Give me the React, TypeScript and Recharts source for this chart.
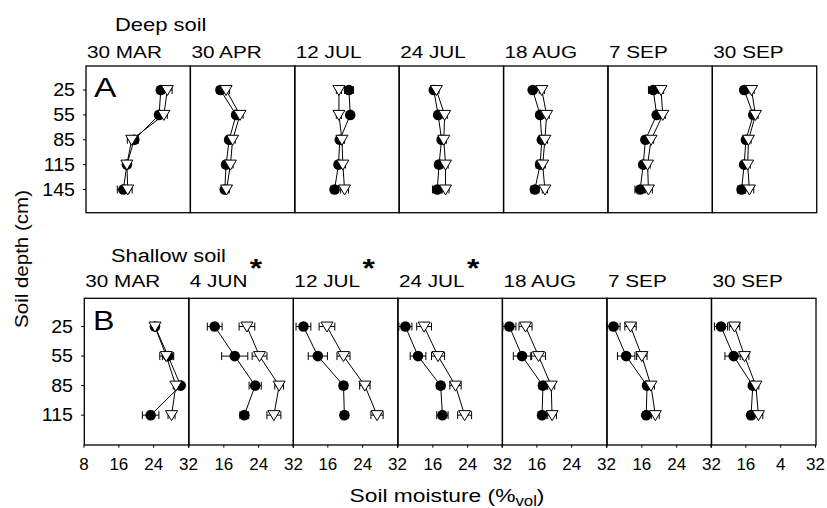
import React from "react";
import { ScatterChart, Scatter, XAxis, YAxis, ErrorBar } from "recharts";

const FONT = "'Liberation Sans', Arial, Helvetica, sans-serif";

// dates above each panel
const deepDates = ["30 MAR", "30 APR", "12 JUL", "24 JUL", "18 AUG", "7 SEP", "30 SEP"];
const shallowDates = ["30 MAR", "4 JUN", "12 JUL", "24 JUL", "18 AUG", "7 SEP", "30 SEP"];
const shallowStars = [false, true, true, true, false, false, false];

const deepDepths = [25, 55, 85, 115, 145];
const shallowDepths = [25, 55, 85, 115];
const moistureTicks = [8, 16, 24, 32];

// tick labels under the bottom row (the last panel really reads "4")
const moistureLabels = [
  ["8", "16", "24", "32"],
  ["", "16", "24", "32"],
  ["", "16", "24", "32"],
  ["", "16", "24", "32"],
  ["", "16", "24", "32"],
  ["", "16", "24", "32"],
  ["", "16", "4", "32"],
];

// deep soil, filled circles
const deepCircle = [
  [25.2, 24.8, 19.1, 17.4, 16.6],
  [15.0, 18.6, 17.0, 16.3, 16.0],
  [20.4, 20.7, 18.3, 18.0, 17.1],
  [16.0, 17.0, 17.8, 17.2, 16.8],
  [14.6, 16.3, 16.7, 16.3, 15.1],
  [18.4, 19.2, 16.6, 16.1, 15.4],
  [15.4, 17.5, 15.8, 15.4, 14.8],
];
const deepCircleErr = [
  [0.8, 0.7, 0.9, 0.6, 1.4],
  [0.8, 0.6, 0.6, 0.7, 0.6],
  [1.0, 0.6, 0.6, 0.6, 0.8],
  [0.6, 0.6, 0.6, 0.7, 1.1],
  [0.6, 0.6, 0.6, 0.9, 0.9],
  [1.1, 0.6, 0.6, 0.6, 1.2],
  [0.6, 0.6, 0.6, 0.6, 0.9],
];
// deep soil, open triangles
const deepTriangle = [
  [26.7, 25.9, 18.5, 17.4, 17.6],
  [16.3, 19.5, 17.8, 17.3, 16.4],
  [18.1, 18.1, 18.8, 19.0, 19.4],
  [16.6, 18.5, 18.3, 18.7, 18.7],
  [16.7, 17.8, 17.4, 16.9, 17.4],
  [20.2, 20.6, 17.9, 17.1, 17.3],
  [17.1, 18.0, 16.4, 16.2, 16.6],
];
const deepTriangleErr = [
  [1.1, 0.8, 1.0, 0.6, 1.0],
  [0.8, 0.7, 0.6, 0.6, 0.6],
  [0.6, 0.6, 0.6, 0.6, 0.9],
  [0.6, 0.6, 0.6, 0.6, 0.8],
  [0.6, 0.6, 0.6, 0.6, 0.6],
  [0.6, 0.6, 0.6, 0.6, 0.9],
  [0.6, 0.6, 0.6, 0.6, 1.0],
];

// shallow soil, filled circles
const shallowCircle = [
  [24.3, 27.3, 30.2, 23.3],
  [13.9, 18.5, 23.2, 20.7],
  [10.4, 13.7, 19.6, 19.8],
  [9.7, 12.6, 17.8, 18.2],
  [9.7, 12.6, 17.4, 17.2],
  [9.5, 12.4, 17.2, 17.0],
  [10.3, 13.2, 17.6, 17.2],
];
const shallowCircleErr = [
  [0.6, 1.3, 0.6, 1.9],
  [1.7, 3.0, 1.4, 1.0],
  [1.7, 2.2, 0.8, 0.8],
  [1.5, 1.8, 0.8, 1.3],
  [1.5, 2.0, 0.9, 0.9],
  [1.5, 2.0, 0.8, 0.7],
  [1.5, 2.0, 0.7, 0.8],
];
// shallow soil, open triangles
const shallowTriangle = [
  [24.3, 26.9, 29.1, 28.1],
  [21.3, 24.2, 28.7, 27.5],
  [15.8, 19.6, 24.5, 27.3],
  [14.0, 17.2, 21.2, 23.3],
  [13.4, 16.4, 19.3, 19.5],
  [13.4, 16.0, 18.1, 19.1],
  [13.4, 15.7, 18.3, 18.9],
];
const shallowTriangleErr = [
  [0.6, 1.5, 0.6, 0.8],
  [1.8, 1.7, 1.0, 1.6],
  [1.8, 1.5, 1.2, 1.4],
  [1.7, 1.5, 1.3, 1.6],
  [1.5, 1.6, 0.8, 1.0],
  [1.3, 1.2, 0.8, 0.9],
  [1.2, 1.0, 0.7, 1.0],
];

// panel geometry
const TOP = { left: 86, width: 104.39, top: 66, height: 146.7, yDomain: [-4, 173] };
const BOT = { left: 84.3, width: 104.53, top: 298.3, height: 146.7, yDomain: [-4, 145] };

// room around each plot box for the ticks and labels
const PAD_L = 64;
const PAD_R = 16;
const PAD_T = 4;
const PAD_B = 32;

function Dot(props: any) {
  const { cx, cy } = props;
  if (cx == null || cy == null) return null;
  return <circle cx={cx} cy={cy} r={5.3} fill="#000" />;
}

function DownTriangle(props: any) {
  const { cx, cy } = props;
  if (cx == null || cy == null) return null;
  const pts = `${cx - 6},${cy - 4.5} ${cx + 6},${cy - 4.5} ${cx},${cy + 5.5}`;
  return <polygon points={pts} fill="#fff" stroke="#000" strokeWidth={1} />;
}

function YTick(props: any) {
  const { x, y, payload } = props;
  return (
    <text
      transform={`translate(${x},${y}) scale(1.12,1)`}
      dy="0.35em"
      textAnchor="end"
      fontSize={17.5}
      fontFamily={FONT}
      fill="#000"
    >
      {payload.value}
    </text>
  );
}

function XTick(props: any) {
  const { x, y, index, labels } = props;
  return (
    <text x={x} y={y} dy="0.71em" textAnchor="middle" fontSize={17} fontFamily={FONT} fill="#000">
      {labels[index]}
    </text>
  );
}

type PanelProps = {
  left: number;
  top: number;
  w: number;
  h: number;
  depths: number[];
  yDomain: number[];
  circ: number[];
  circErr: number[];
  tri: number[];
  triErr: number[];
  yLabels: boolean;
  xLabels: string[] | null;
};

function Panel(p: PanelProps) {
  const circData = p.depths.map((d, i) => ({ x: p.circ[i], y: d, err: p.circErr[i] }));
  const triData = p.depths.map((d, i) => ({ x: p.tri[i], y: d, err: p.triErr[i] }));
  return (
    <div style={{ position: "absolute", left: p.left - PAD_L, top: p.top - PAD_T }}>
      <ScatterChart
        width={p.w + PAD_L + PAD_R}
        height={p.h + PAD_T + PAD_B}
        margin={{ top: PAD_T, right: PAD_R, bottom: 0, left: 0 }}
      >
        <XAxis
          type="number"
          dataKey="x"
          domain={[8, 32]}
          ticks={moistureTicks}
          interval={0}
          allowDataOverflow
          axisLine={false}
          tickSize={3}
          tickMargin={10}
          tickLine={{ stroke: "#000" }}
          tick={p.xLabels ? <XTick labels={p.xLabels} /> : false}
          height={PAD_B}
        />
        <YAxis
          type="number"
          dataKey="y"
          domain={p.yDomain}
          reversed
          ticks={p.depths}
          interval={0}
          allowDataOverflow
          axisLine={false}
          tickSize={3}
          tickMargin={8}
          tickLine={{ stroke: "#000" }}
          tick={p.yLabels ? <YTick /> : false}
          width={PAD_L}
        />
        <Scatter
          data={circData}
          shape={<Dot />}
          line={{ stroke: "#000", strokeWidth: 1 }}
          isAnimationActive={false}
        >
          <ErrorBar dataKey="err" direction="x" width={4} stroke="#000" strokeWidth={1} />
        </Scatter>
        <Scatter
          data={triData}
          shape={<DownTriangle />}
          line={{ stroke: "#000", strokeWidth: 1 }}
          isAnimationActive={false}
        >
          <ErrorBar dataKey="err" direction="x" width={4} stroke="#000" strokeWidth={1} />
        </Scatter>
      </ScatterChart>
    </div>
  );
}

function Txt({ x, y, size, sx = 1, anchor = "start", children }: any) {
  return (
    <text
      transform={`translate(${x},${y}) scale(${sx},1)`}
      fontSize={size}
      textAnchor={anchor}
      fontFamily={FONT}
      fill="#000"
    >
      {children}
    </text>
  );
}

export default function App() {
  return (
    <div style={{ position: "absolute", left: 0, top: 0, width: 827, height: 508, background: "#fff" }}>
      {deepDates.map((_, i) => (
        <Panel
          key={"d" + i}
          left={TOP.left + i * TOP.width}
          top={TOP.top}
          w={TOP.width}
          h={TOP.height}
          depths={deepDepths}
          yDomain={TOP.yDomain}
          circ={deepCircle[i]}
          circErr={deepCircleErr[i]}
          tri={deepTriangle[i]}
          triErr={deepTriangleErr[i]}
          yLabels={i === 0}
          xLabels={null}
        />
      ))}
      {shallowDates.map((_, i) => (
        <Panel
          key={"s" + i}
          left={BOT.left + i * BOT.width}
          top={BOT.top}
          w={BOT.width}
          h={BOT.height}
          depths={shallowDepths}
          yDomain={BOT.yDomain}
          circ={shallowCircle[i]}
          circErr={shallowCircleErr[i]}
          tri={shallowTriangle[i]}
          triErr={shallowTriangleErr[i]}
          yLabels={i === 0}
          xLabels={moistureLabels[i]}
        />
      ))}

      {/* frames and titles */}
      <svg
        width={827}
        height={508}
        style={{ position: "absolute", left: 0, top: 0, pointerEvents: "none" }}
      >
        {deepDates.map((_, i) => (
          <rect
            key={"fd" + i}
            x={TOP.left + i * TOP.width}
            y={TOP.top}
            width={TOP.width}
            height={TOP.height}
            fill="none"
            stroke="#000"
            strokeWidth={1.3}
          />
        ))}
        {shallowDates.map((_, i) => (
          <rect
            key={"fs" + i}
            x={BOT.left + i * BOT.width}
            y={BOT.top}
            width={BOT.width}
            height={BOT.height}
            fill="none"
            stroke="#000"
            strokeWidth={1.3}
          />
        ))}

        <Txt x={115} y={31} size={18} sx={1.22}>Deep soil</Txt>
        {deepDates.map((d, i) => (
          <Txt key={"td" + i} x={TOP.left + i * TOP.width + 1} y={58} size={17} sx={1.22}>
            {d}
          </Txt>
        ))}
        <Txt x={94} y={97} size={28} sx={1.2}>A</Txt>

        <Txt x={111} y={262} size={18} sx={1.21}>Shallow soil</Txt>
        {shallowDates.map((d, i) => (
          <Txt key={"ts" + i} x={BOT.left + i * BOT.width + 1} y={287} size={17} sx={1.22}>
            {d}
            {shallowStars[i] && (
              <tspan fontSize={26} fontWeight="bold" dx={2} dy={-10}>
                *
              </tspan>
            )}
          </Txt>
        ))}
        <Txt x={93} y={330} size={28} sx={1.15}>B</Txt>

        <text
          transform="translate(28,259) rotate(-90) scale(1.08,1)"
          fontSize={19}
          textAnchor="middle"
          fontFamily={FONT}
          fill="#000"
        >
          Soil depth (cm)
        </text>
        <Txt x={447} y={502} size={19} sx={1.2} anchor="middle">
          Soil moisture (%
          <tspan fontSize={14} dy={4}>vol</tspan>
          <tspan dy={-4}>)</tspan>
        </Txt>
      </svg>
    </div>
  );
}
